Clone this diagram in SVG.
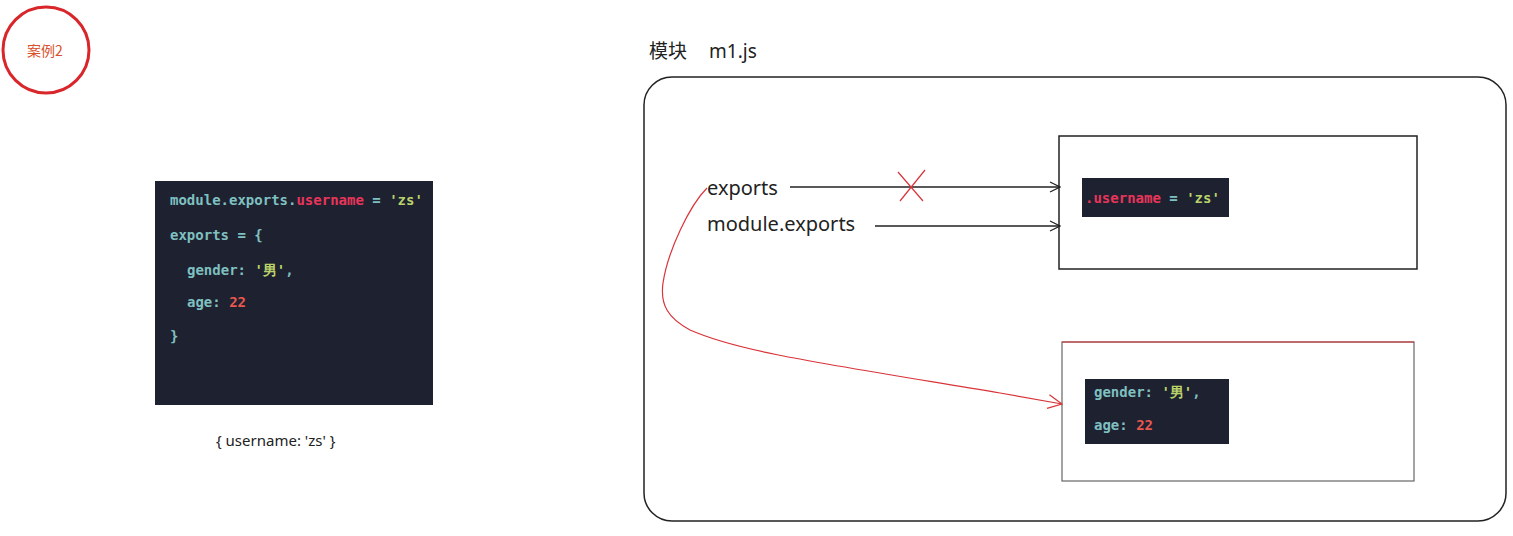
<svg xmlns="http://www.w3.org/2000/svg" width="1513" height="536" viewBox="0 0 1513 536">
<style>
.code{font-family:"DejaVu Sans Mono","Liberation Mono",monospace;font-size:14px;font-weight:bold}
.cy{fill:#7fc0c0}.cr{fill:#e8355a}.cg{fill:#b9d36a}.cn{fill:#e8584e}
.lbl{font-family:"Noto Sans","Noto Sans CJK SC",sans-serif;fill:#222}
.blk{fill:#1e2130}
</style>
<defs>
<marker id="ab" markerWidth="12" markerHeight="12" refX="11" refY="6" orient="auto" markerUnits="userSpaceOnUse"><path d="M1,1 L11,6 L1,11" fill="none" stroke="#222" stroke-width="1.2"/></marker>
<marker id="ar" markerWidth="16" markerHeight="16" refX="15" refY="8" orient="auto" markerUnits="userSpaceOnUse"><path d="M1,1 L15,8 L1,15" fill="none" stroke="#d9343a" stroke-width="1.2"/></marker>
</defs>
<rect width="1513" height="536" fill="#fff"/>
<g id="badge">
<circle cx="46" cy="50" r="43" fill="none" stroke="#d8262b" stroke-width="3"/>
<text x="45" y="56" text-anchor="middle" font-family="Noto Sans CJK SC,sans-serif" font-size="14" fill="#d9502a">案例2</text>
</g>
<g id="code-main">
<rect class="blk" x="155" y="181" width="278" height="224"/>
<text class="code" x="170" y="205"><tspan class="cy">module.exports.</tspan><tspan class="cr">username</tspan><tspan class="cy"> = </tspan><tspan class="cg">'zs'</tspan></text>
<text class="code cy" x="170" y="240">exports = {</text>
<text class="code" x="187" y="275"><tspan class="cy">gender: </tspan><tspan class="cg">'男'</tspan><tspan class="cy">,</tspan></text>
<text class="code" x="187" y="307"><tspan class="cy">age: </tspan><tspan class="cn">22</tspan></text>
<text class="code cy" x="170" y="341">}</text>
</g>
<g id="result">
<text class="lbl" x="216" y="446" font-size="15">{ username: 'zs' }</text>
</g>
<g id="module-title">
<text class="lbl" x="649" y="58" font-size="19">模块</text>
<text class="lbl" x="709" y="58" font-size="19">m1.js</text>
</g>
<g id="module-box">
<rect x="644" y="77" width="862" height="444" rx="28" fill="none" stroke="#222" stroke-width="1.5"/>
</g>
<g id="obj1">
<rect x="1059" y="136" width="358" height="133" fill="#fff" stroke="#222" stroke-width="1.5"/>
<rect class="blk" x="1082" y="178" width="147" height="39"/>
<text class="code" x="1085" y="203"><tspan class="cr">.username</tspan><tspan class="cy"> = </tspan><tspan class="cg">'zs'</tspan></text>
</g>
<g id="obj2">
<rect x="1062" y="342" width="352" height="139" fill="#fff" stroke="#666" stroke-width="1.2"/>
<line x1="1062" y1="342" x2="1414" y2="342" stroke="#d9343a" stroke-width="1.2"/>
<rect class="blk" x="1085" y="379" width="144" height="65"/>
<text class="code" x="1094" y="397"><tspan class="cy">gender: </tspan><tspan class="cg">'男'</tspan><tspan class="cy">,</tspan></text>
<text class="code" x="1094" y="430"><tspan class="cy">age: </tspan><tspan class="cn">22</tspan></text>
</g>
<g id="labels">
<text class="lbl" x="707" y="195" font-size="20">exports</text>
<text class="lbl" x="707" y="231" font-size="20">module.exports</text>
</g>
<g id="connectors">
<line x1="790" y1="187" x2="1060" y2="187" stroke="#222" stroke-width="1.3" marker-end="url(#ab)"/>
<line x1="875" y1="226" x2="1060" y2="226" stroke="#222" stroke-width="1.3" marker-end="url(#ab)"/>
<path d="M898,172 L923,201 M925,170 L900,201" stroke="#d9343a" stroke-width="1.2" fill="none"/>
<path d="M707,188 C690,205 668,250 663,283 C660,305 668,318 690,330 C740,352 820,363 1000,393 L1062,404" fill="none" stroke="#d9343a" stroke-width="1.2" marker-end="url(#ar)"/>
</g>
</svg>
